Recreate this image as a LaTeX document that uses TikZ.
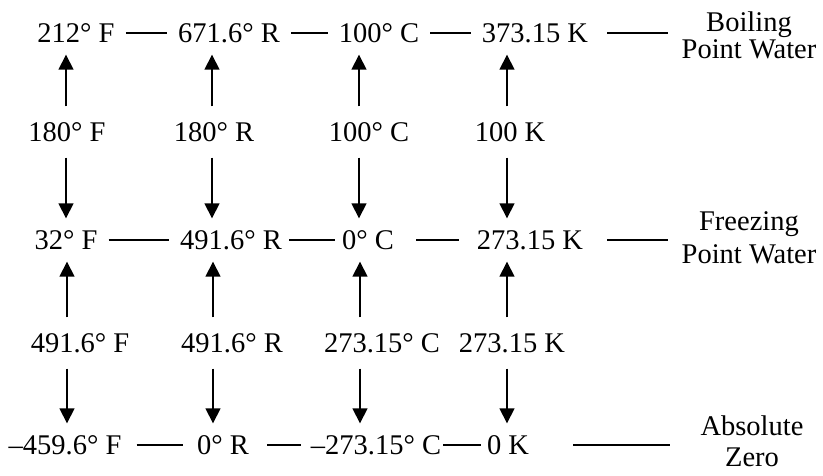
\documentclass[tikz,border=0pt]{standalone}
\usepackage{fontspec}
\setmainfont{Liberation Serif}
\usetikzlibrary{arrows.meta}

\tikzset{
  val/.style={inner sep=0pt, text height=19pt, text depth=0pt},
  note/.style={align=center, inner sep=0pt, anchor=north, font=\fontsize{28.5}{#1}\selectfont},
  uparr/.style={line width=1.6pt, -{Triangle[length=15pt,width=15pt]}, shorten <=16pt, shorten >=12pt},
  rule/.style={line width=1.5pt, shorten <=11pt, shorten >=11pt},
}

\begin{document}
\begin{tikzpicture}[x=1pt, y=-1pt, font=\fontsize{28.5}{32}\selectfont]
  \useasboundingbox (0,0) rectangle (823,475);

  % --- boiling point row ---
  \node[val] (f1) at (76,33)  {212° F};
  \node[val] (r1) at (229,33) {671.6° R};
  \node[val] (c1) at (379,33) {100° C};
  \node[val] (k1) at (535,33) {373.15 K};
  \node[note=27] (boil) at (749,12) {Boiling\\Point Water};
  \coordinate (eb) at (668,33);

  % --- span boiling to freezing ---
  \node[val] (df1) at (67,132)  {180° F};
  \node[val] (dr1) at (214,132) {180° R};
  \node[val] (dc1) at (369,132) {100° C};
  \node[val] (dk1) at (510,132) {100 K};

  % --- freezing point row ---
  \node[val] (f2) at (66,240)  {32° F};
  \node[val] (r2) at (231,240) {491.6° R};
  \node[val] (c2) at (368,240) {0° C};
  \node[val] (k2) at (530,240) {273.15 K};
  \node[note=33] (freeze) at (749,211) {Freezing\\Point Water};
  \coordinate (ef) at (668,240);

  % --- span freezing to absolute zero ---
  \node[val] (df2) at (80,343)  {491.6° F};
  \node[val] (dr2) at (232,343) {491.6° R};
  \node[val] (dc2) at (382,343) {273.15° C};
  \node[val] (dk2) at (512,343) {273.15 K};

  % --- absolute zero row ---
  \node[val] (f3) at (65,445)  {–459.6° F};
  \node[val] (r3) at (223,445) {0° R};
  \node[val] (c3) at (376,445) {–273.15° C};
  \node[val] (k3) at (508,445) {0 K};
  \node[note=31] (abs) at (752,416) {Absolute\\Zero};
  \coordinate (ea) at (670,445);

  % horizontal rules
  \draw[rule] (f1) -- (r1);
  \draw[rule] (r1) -- (c1);
  \draw[rule] (c1) -- (k1);
  \draw[rule, shorten <=19pt, shorten >=0pt] (k1) -- (eb);
  \draw[rule] (f2) -- (r2);
  \draw[rule, shorten <=7pt, shorten >=7pt] (r2) -- (c2);
  \draw[rule, shorten <=22pt, shorten >=18pt] (c2) -- (k2);
  \draw[rule, shorten <=24pt, shorten >=0pt] (k2) -- (ef);
  \draw[rule, shorten <=15pt, shorten >=14pt] (f3) -- (r3);
  \draw[rule, shorten <=18pt, shorten >=10pt] (r3) -- (c3);
  \draw[rule, shorten <=2pt, shorten >=6pt] (c3) -- (k3);
  \draw[rule, shorten <=44pt, shorten >=0pt] (k3) -- (ea);

  % vertical arrows, one column per scale
  \foreach \d/\a/\b/\x in {df1/f1/f2/66, dr1/r1/r2/212, dc1/c1/c2/359, dk1/k1/k2/507,
                           df2/f2/f3/67, dr2/r2/r3/213, dc2/c2/c3/360, dk2/k2/k3/507} {
    \coordinate (m) at (\x,0);
    \draw[uparr] (\d.north -| m) -- (\a.south -| m);
    \draw[uparr] (\d.south -| m) -- (\b.north -| m);
  }
\end{tikzpicture}
\end{document}
